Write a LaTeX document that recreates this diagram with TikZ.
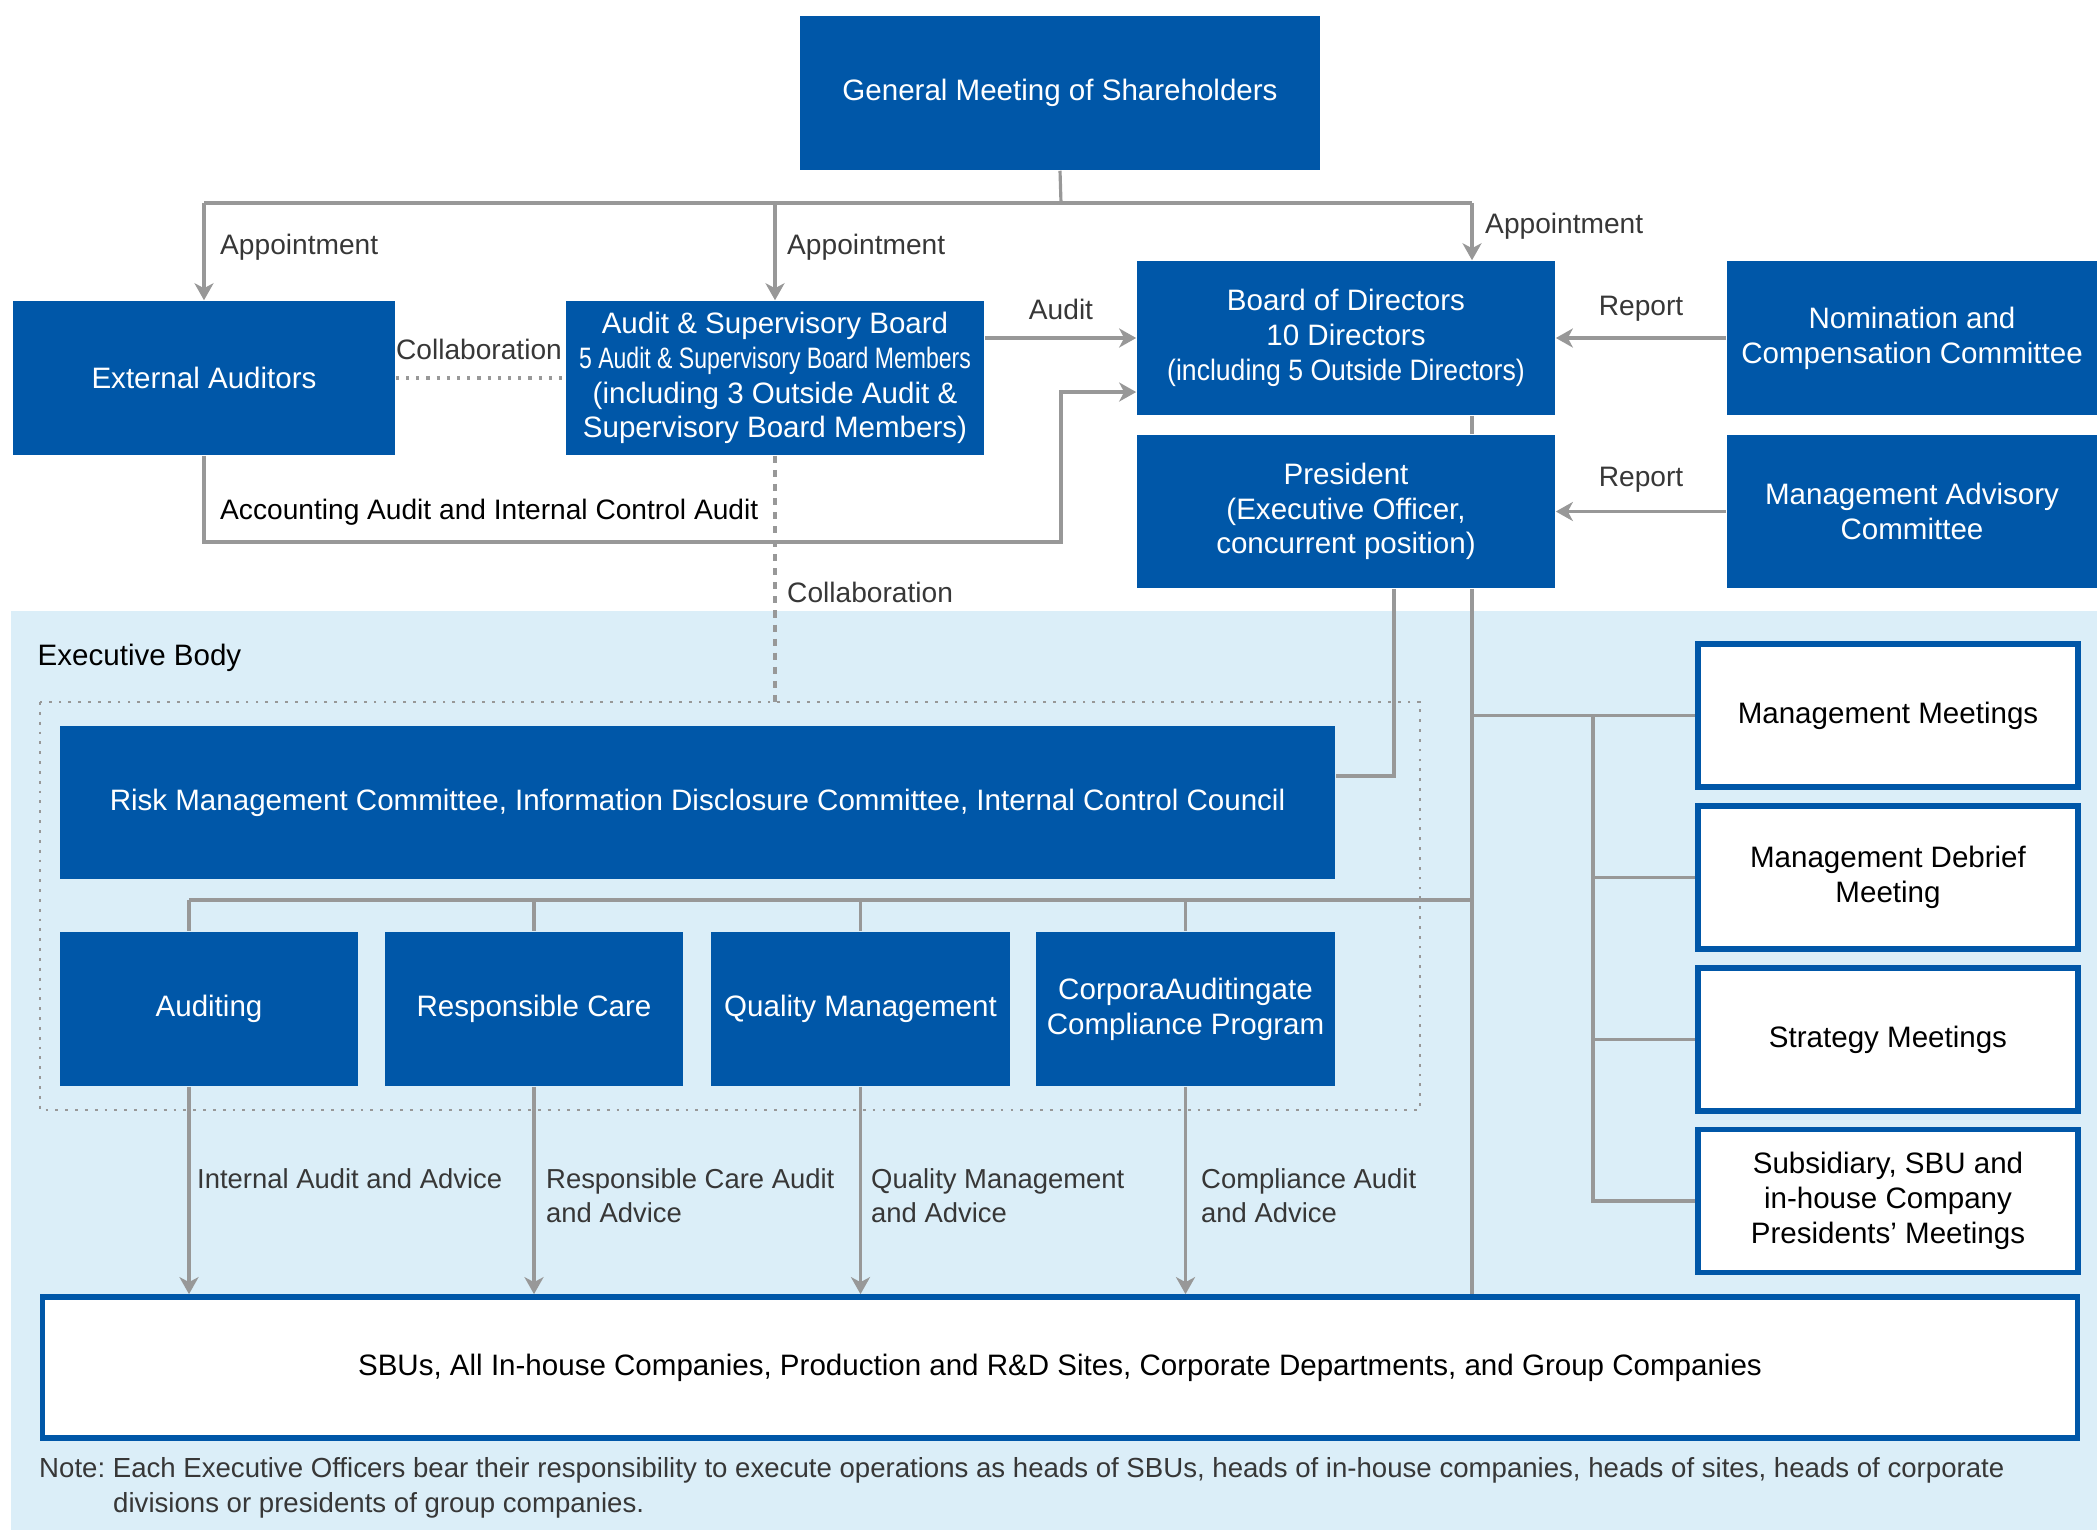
\documentclass[tikz,border=0pt]{standalone}
\usepackage{fontspec}
\setmainfont{Liberation Sans}
\usepackage{graphicx}
\usetikzlibrary{arrows.meta}

\definecolor{corpblue}{RGB}{0,87,168}
\definecolor{execbg}{RGB}{219,238,248}
\definecolor{linegray}{RGB}{152,152,152}
\definecolor{labelgray}{RGB}{55,55,55}

\tikzset{
  bluebox/.style={fill=corpblue, text=white, align=center, inner sep=0pt,
    font=\fontsize{8.4}{9.9}\selectfont},
  meetbox/.style={fill=white, draw=corpblue, line width=1.6pt, align=center, inner sep=0pt,
    font=\fontsize{8.4}{9.9}\selectfont},
  conn/.style={draw=linegray, line width=0.9pt},
  arr/.style={conn, -{Stealth[length=1.7mm,width=1.9mm,inset=0.5mm]}},
  collab/.style={draw=linegray, line width=0.9pt, dotted},
  lbl/.style={text=labelgray, inner sep=1pt, align=left, font=\fontsize{8}{9.9}\selectfont},
}

\begin{document}
\frenchspacing
\begin{tikzpicture}[x=0.01cm,y=-0.01cm]
  \useasboundingbox (0,0) rectangle (2097,1530);
  % executive body area
  \fill[execbg] (11,611) rectangle (2097,1530);
  \coordinate (dotTL) at (40,702);
  \coordinate (dotBR) at (1420,1110);
  \draw[linegray, line width=0.8pt, dotted] (dotTL) rectangle (dotBR);
  \node[anchor=west, inner sep=0pt, font=\fontsize{8.4}{9.9}\selectfont] (execlbl) at (37,658) {Executive Body};

  % upper governance boxes
  \node[bluebox, minimum width=5.19cm, minimum height=1.54cm] (gms) at (1060,93) {General Meeting of Shareholders};
  \node[bluebox, minimum width=3.82cm, minimum height=1.54cm] (ext) at (204,378) {External Auditors};
  \node[bluebox, minimum width=4.18cm, minimum height=1.54cm] (asb) at (775,378)
    {Audit \& Supervisory Board\\\scalebox{0.78}[1]{5 Audit \& Supervisory Board Members}\\(including 3 Outside Audit \&\\Supervisory Board Members)};
  \node[bluebox, minimum width=4.18cm, minimum height=1.54cm] (bod) at (1346,338)
    {Board of Directors\\10 Directors\\\scalebox{0.9}[1]{(including 5 Outside Directors)}};
  \node[bluebox, minimum width=4.18cm, minimum height=1.53cm] (pres) at (1346,511.5)
    {President\\(Executive Officer,\\concurrent position)};
  \node[bluebox, minimum width=3.70cm, minimum height=1.54cm] (nom) at (1912,338) {Nomination and\\Compensation Committee};
  \node[bluebox, minimum width=3.70cm, minimum height=1.53cm] (mac) at (1912,511.5) {Management Advisory\\Committee};

  % executive body boxes
  \node[bluebox, minimum width=12.75cm, minimum height=1.53cm] (risk) at (697.5,802.5)
    {Risk Management Committee, Information Disclosure Committee, Internal Control Council};
  \node[bluebox, minimum width=2.98cm, minimum height=1.54cm] (aud) at (209,1009) {Auditing};
  \node[bluebox, minimum width=2.98cm, minimum height=1.54cm] (rc) at (534,1009) {Responsible Care};
  \node[bluebox, minimum width=2.98cm, minimum height=1.54cm] (qm) at (860.5,1009) {Quality Management};
  \node[bluebox, minimum width=2.98cm, minimum height=1.54cm] (cc) at (1185.5,1009) {CorporaAuditingate\\Compliance Program};

  \node[meetbox, minimum width=3.80cm, minimum height=1.43cm] (mm) at (1888,715.5) {Management Meetings};
  \node[meetbox, minimum width=3.80cm, minimum height=1.43cm] (mdm) at (1888,877.5) {Management Debrief\\Meeting};
  \node[meetbox, minimum width=3.80cm, minimum height=1.43cm] (sm) at (1888,1039.5) {Strategy Meetings};
  \node[meetbox, minimum width=3.80cm, minimum height=1.43cm] (sub) at (1888,1201) {Subsidiary, SBU and\\in-house Company\\Presidents' Meetings};

  \node[meetbox, minimum width=20.34cm, minimum height=1.41cm] (sbu) at (1060,1367.5)
    {SBUs, All In-house Companies, Production and R\&D Sites, Corporate Departments, and Group Companies};

  % appointment
  \coordinate (split) at (1061,203);
  \coordinate (trunktop) at (1472,203);
  \draw[conn] (gms.south) -- (split);
  \draw[conn] (ext.north |- split) -- (trunktop);
  \draw[arr] (ext.north |- split) -- (ext.north);
  \draw[arr] (asb.north |- split) -- (asb.north);
  \draw[arr] (trunktop) -- (trunktop |- bod.north);
  \node[lbl, anchor=west] (appext) at (216,247) {Appointment};
  \node[lbl, anchor=west] (appasb) at (783,247) {Appointment};
  \node[lbl, anchor=west] (appbod) at (1481,226) {Appointment};

  % audit and collaboration
  \draw[collab] (ext.east) -- (asb.west);
  \node[lbl] (collabtop) at (479,349) {Collaboration};
  \draw[arr] (asb.east |- bod.west) -- (bod.west);
  \node[lbl] (auditlbl) at (1061,309) {Audit};
  \coordinate (acccorner) at (1061,542);
  \draw[arr] (ext.south) |- (acccorner) |- ([yshift=-0.54cm]bod.west);
  \node[lbl, anchor=west, text=black] (acclbl) at (216,512) {Accounting Audit and Internal Control Audit};
  \draw[linegray, line width=0.9pt, dash pattern=on 2pt off 2pt] (asb.south) -- (asb.south |- dotTL);
  \node[lbl, anchor=west] (collablow) at (783,592) {Collaboration};

  % reports
  \draw[arr] (nom.west) -- (bod.east);
  \draw[arr] (mac.west) -- (pres.east);
  \node[lbl] (rep1) at (1641,309) {Report};
  \node[lbl] (rep2) at (1641,480) {Report};

  % president down to executive body
  \draw[conn] (trunktop |- bod.south) -- (trunktop |- pres.north);
  \draw[conn] (trunktop |- pres.south) -- (trunktop |- sbu.north);
  \coordinate (presrisk) at (1394,776);
  \draw[conn] (pres.south -| presrisk) |- (risk.east |- presrisk);
  \coordinate (funcbar) at (189,900);
  \draw[conn] (funcbar) -- (trunktop |- funcbar);
  \draw[conn] (funcbar) -- (funcbar |- aud.north);
  \draw[conn] (rc.north |- funcbar) -- (rc.north);
  \draw[conn] (qm.north |- funcbar) -- (qm.north);
  \draw[conn] (cc.north |- funcbar) -- (cc.north);

  % meetings
  \coordinate (meetbar) at (1593,715.5);
  \draw[conn] (trunktop |- mm.west) -- (mm.west);
  \draw[conn] (meetbar) |- (sub.west);
  \draw[conn] (meetbar |- mdm.west) -- (mdm.west);
  \draw[conn] (meetbar |- sm.west) -- (sm.west);

  % audits and advice
  \draw[arr] (funcbar |- aud.south) -- (funcbar |- sbu.north);
  \draw[arr] (rc.south) -- (rc.south |- sbu.north);
  \draw[arr] (qm.south) -- (qm.south |- sbu.north);
  \draw[arr] (cc.south) -- (cc.south |- sbu.north);
  \node[lbl, anchor=north west, font=\fontsize{7.8}{9.9}\selectfont] (advaud) at (193,1164) {Internal Audit and Advice};
  \node[lbl, anchor=north west, font=\fontsize{7.8}{9.9}\selectfont] (advrc) at (542,1164) {Responsible Care Audit\\and Advice};
  \node[lbl, anchor=north west, font=\fontsize{7.8}{9.9}\selectfont] (advqm) at (867,1164) {Quality Management\\and Advice};
  \node[lbl, anchor=north west, font=\fontsize{7.8}{9.9}\selectfont] (advcc) at (1197,1164) {Compliance Audit\\and Advice};

  % note
  \node[lbl, anchor=west, font=\fontsize{7.85}{9}\selectfont] (note1) at (35,1470)
    {Note: Each Executive Officers bear their responsibility to execute operations as heads of SBUs, heads of in-house companies, heads of sites, heads of corporate};
  \node[lbl, anchor=west, font=\fontsize{7.85}{9}\selectfont] (note2) at (109,1505)
    {divisions or presidents of group companies.};
\end{tikzpicture}
\end{document}
